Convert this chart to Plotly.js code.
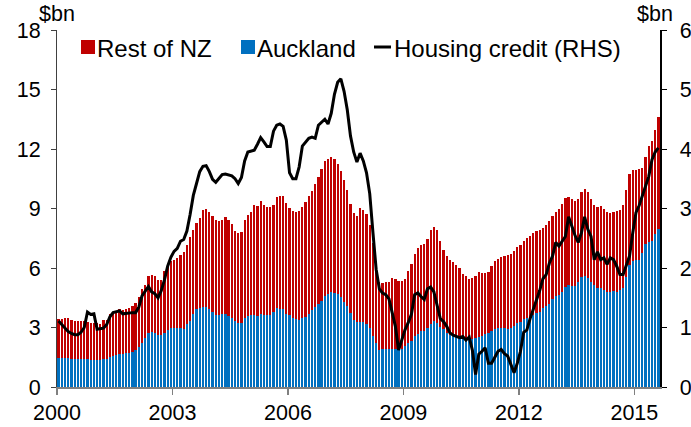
<!DOCTYPE html>
<html>
<head>
<meta charset="utf-8">
<script src="https://cdn.plot.ly/plotly-3.0.1.min.js"></script>
<style>html,body{margin:0;padding:0;background:#fff;}#chart{width:691px;height:427px;}</style>
</head>
<body>
<div id="chart"></div>
<script>
// Monthly data, Jan 2000 – Aug 2015 ($bn)
const startYear = 2000;

const auckland = [
  1.47,1.47,1.47,1.45,1.43,1.42,1.42,1.42,1.40,1.40,1.38,1.36, // 2000
  1.36,1.38,1.40,1.40,1.50,1.55,1.62,1.65,1.68,1.70,1.70,1.74, // 2001
  1.88,2.02,2.20,2.45,2.70,2.75,2.70,2.62,2.60,2.70,2.85,2.95, // 2002
  3.00,2.98,2.95,2.90,3.20,3.35,3.70,3.95,4.00,4.05,4.05,3.95, // 2003
  3.80,3.65,3.65,3.68,3.70,3.60,3.50,3.35,3.25,3.25,3.50,3.60, // 2004
  3.62,3.65,3.60,3.70,3.65,3.62,3.65,3.80,4.00,3.95,3.92,3.70, // 2005
  3.62,3.50,3.45,3.40,3.48,3.55,3.70,3.90,4.05,4.20,4.35,4.60, // 2006
  4.70,4.78,4.75,4.70,4.55,4.30,4.10,3.75,3.38,3.28,3.30,3.30, // 2007
  3.20,2.98,2.56,2.23,1.89,1.90,1.92,1.90,1.90,1.90,1.88,1.90, // 2008
  2.06,2.23,2.30,2.56,2.68,2.80,2.83,2.98,3.20,3.32,3.23,3.03, // 2009
  2.90,2.73,2.64,2.60,2.55,2.50,2.46,2.38,2.38,2.40,2.46,2.52, // 2010
  2.58,2.65,2.73,2.81,2.93,2.98,2.98,2.95,2.93,2.98,3.10,3.22, // 2011
  3.30,3.44,3.50,3.52,3.65,3.72,3.78,3.99,4.07,4.20,4.45,4.60, // 2012
  4.65,4.80,5.05,5.12,5.10,5.10,5.28,5.56,5.58,5.48,5.28,5.12, // 2013
  5.00,5.00,4.90,4.80,4.80,4.82,4.80,4.90,5.00,5.56,6.17,6.35, // 2014
  6.38,6.40,6.76,7.23,7.30,7.35,7.69,7.97                      // 2015
];

const restOfNZ = [
  1.97,1.95,2.01,2.01,1.95,1.93,1.91,1.93,1.93,1.90,1.87,1.86, // 2000
  1.86,1.82,1.98,2.00,2.20,2.17,2.23,2.30,2.20,2.25,2.30,2.34, // 2001
  2.37,2.53,2.75,2.70,2.90,2.90,2.92,2.78,2.80,3.15,3.35,3.40, // 2002
  3.40,3.52,3.70,3.90,3.95,4.20,4.20,4.30,4.50,4.85,4.93,4.85, // 2003
  4.80,4.75,4.70,4.72,4.85,4.80,4.70,4.50,4.50,4.55,4.90,5.05, // 2004
  5.18,5.55,5.55,5.70,5.55,5.48,5.43,5.40,5.60,5.67,5.73,5.60, // 2005
  5.43,5.35,5.35,5.45,5.62,5.80,5.95,6.00,6.20,6.40,6.65,6.78, // 2006
  6.80,6.80,6.75,6.55,6.35,6.12,5.85,5.50,5.40,5.32,5.73,5.60, // 2007
  5.53,5.21,4.71,4.11,3.41,3.35,3.38,3.38,3.60,3.55,3.47,3.43, // 2008
  3.37,3.61,3.92,4.17,4.32,4.35,4.37,4.50,4.74,4.75,4.71,4.32, // 2009
  4.03,3.90,3.75,3.70,3.62,3.52,3.26,3.22,3.07,3.10,3.16,3.26, // 2010
  3.17,3.10,3.05,3.31,3.41,3.48,3.58,3.67,3.73,3.72,3.75,3.84, // 2011
  3.88,3.94,4.00,4.08,4.12,4.13,4.16,4.03,4.08,4.16,4.19,4.20, // 2012
  4.33,4.45,4.49,4.48,4.40,4.26,4.22,4.26,4.40,4.34,4.22,4.08, // 2013
  4.10,4.15,4.10,4.01,3.95,3.98,4.06,4.00,4.20,4.39,4.59,4.61, // 2014
  4.57,4.58,4.29,4.37,4.87,5.07,5.29,5.65                      // 2015
];

const housingCredit = [
  1.11,1.05,1.00,0.93,0.90,0.88,0.88,0.92,1.00,1.26,1.22,1.23, // 2000
  0.97,0.98,0.99,1.05,1.18,1.25,1.27,1.28,1.23,1.24,1.25,1.25, // 2001
  1.25,1.34,1.53,1.62,1.69,1.60,1.57,1.50,1.62,1.80,2.03,2.18, // 2002
  2.28,2.33,2.45,2.48,2.62,2.90,3.22,3.42,3.62,3.71,3.72,3.62, // 2003
  3.49,3.44,3.50,3.57,3.58,3.57,3.55,3.50,3.42,3.52,3.80,3.95, // 2004
  3.97,3.98,4.08,4.19,4.12,4.04,4.04,4.30,4.40,4.42,4.38,4.15, // 2005
  3.60,3.50,3.50,3.70,4.05,4.12,4.18,4.20,4.18,4.40,4.45,4.50, // 2006
  4.42,4.60,4.92,5.12,5.18,4.97,4.66,4.22,3.95,3.78,3.93,3.80, // 2007
  3.60,3.25,2.60,1.98,1.65,1.58,1.55,1.48,1.25,1.02,0.62,0.78, // 2008
  0.96,1.08,1.22,1.55,1.58,1.52,1.47,1.65,1.68,1.60,1.38,1.15, // 2009
  1.10,1.02,0.91,0.87,0.85,0.83,0.85,0.79,0.84,0.62,0.21,0.55, // 2010
  0.60,0.66,0.40,0.40,0.50,0.60,0.63,0.56,0.52,0.38,0.24,0.40, // 2011
  0.60,0.92,0.96,1.15,1.30,1.48,1.62,1.82,1.89,2.08,2.20,2.43, // 2012
  2.37,2.45,2.53,2.86,2.70,2.55,2.43,2.59,2.86,2.65,2.53,2.14, // 2013
  2.27,2.14,2.17,2.06,2.17,2.14,2.03,1.89,1.89,2.05,2.20,2.59, // 2014
  2.93,3.05,3.21,3.40,3.54,3.82,3.95,4.02                      // 2015
];

const yearTicks = [2000, 2003, 2006, 2009, 2012, 2015];
const leftTicks = [0, 3, 6, 9, 12, 15, 18];
const rightTicks = [0, 1, 2, 3, 4, 5, 6];
const seriesNames = ['Rest of NZ', 'Auckland', 'Housing credit (RHS)'];
const seriesColors = ['#C00000', '#0070C0', '#000000'];

// month positions (centre of each month, in decimal years)
const months = auckland.map((_, i) => startYear + (i + 0.5) / 12);
const endYear = startYear + auckland.length / 12;

const FONT = 'Liberation Sans, Arial, sans-serif';
const FS = 21.5;
const LFS = 24;

const traces = [
  { type: 'bar', name: seriesNames[1], x: months, y: auckland, marker: { color: seriesColors[1] }, showlegend: false },
  { type: 'bar', name: seriesNames[0], x: months, y: restOfNZ, marker: { color: seriesColors[0] }, showlegend: false },
  { type: 'scatter', mode: 'lines', name: seriesNames[2], x: months, y: housingCredit, yaxis: 'y2',
    line: { color: seriesColors[2], width: 3 }, showlegend: false }
];

// plot-area geometry helpers for the legend (pixel -> paper)
const M = { l: 57, r: 31, t: 30, b: 40 };
const PW = 691 - M.l - M.r, PH = 427 - M.t - M.b;
const px = v => (v - M.l) / PW;
const py = v => (427 - M.b - v) / PH;

const legendY = 47;
const legendItems = [
  { sym: 'box', x0: 81, x1: 95, tx: 96 },
  { sym: 'box', x0: 241, x1: 255, tx: 256 },
  { sym: 'line', x0: 374, x1: 391, tx: 393 }
];

const shapes = legendItems.map((it, k) => it.sym === 'box'
  ? { type: 'rect', xref: 'paper', yref: 'paper', x0: px(it.x0), x1: px(it.x1), y0: py(legendY + 7), y1: py(legendY - 7),
      fillcolor: seriesColors[k], line: { width: 0 } }
  : { type: 'line', xref: 'paper', yref: 'paper', x0: px(it.x0), x1: px(it.x1), y0: py(legendY), y1: py(legendY),
      line: { color: seriesColors[k], width: 3 } });

const annotations = legendItems.map((it, k) => ({
  text: seriesNames[k], xref: 'paper', yref: 'paper', x: px(it.tx), y: py(legendY + 1), xanchor: 'left', yanchor: 'middle',
  showarrow: false, borderpad: 0, font: { family: FONT, size: LFS, color: '#000' }
}));
annotations.push(
  { text: '$bn', xref: 'paper', yref: 'paper', x: 0, y: 1, xanchor: 'left', yanchor: 'bottom', xshift: -19, yshift: 3,
    showarrow: false, borderpad: 0, font: { family: FONT, size: FS, color: '#000' } },
  { text: '$bn', xref: 'paper', yref: 'paper', x: 1, y: 1, xanchor: 'center', yanchor: 'bottom', xshift: -5, yshift: 3,
    showarrow: false, borderpad: 0, font: { family: FONT, size: FS, color: '#000' } }
);

const layout = {
  width: 691, height: 427,
  margin: M,
  paper_bgcolor: '#ffffff', plot_bgcolor: '#ffffff',
  font: { family: FONT, size: FS, color: '#000' },
  barmode: 'stack', bargap: 0.3,
  showlegend: false,
  xaxis: { range: [startYear, endYear], tickmode: 'array', tickvals: yearTicks, ticktext: yearTicks.map(String),
           ticks: 'outside', ticklen: 6, tickwidth: 1.5, tickcolor: '#808080',
           showline: true, linecolor: '#808080', linewidth: 1.5, showgrid: false, zeroline: false,
           tickfont: { family: FONT, size: FS, color: '#000' } },
  yaxis: { range: [0, 18], tickmode: 'array', tickvals: leftTicks, ticks: 'outside', ticklen: 5, tickwidth: 1, tickcolor: '#404040',
           showline: true, linecolor: '#404040', linewidth: 1, showgrid: false, zeroline: false, ticklabelstandoff: 6,
           tickfont: { family: FONT, size: FS, color: '#000' } },
  yaxis2: { range: [0, 6], overlaying: 'y', side: 'right', tickmode: 'array', tickvals: rightTicks,
            ticks: 'outside', ticklen: 5, tickwidth: 1, tickcolor: '#000',
            showline: true, linecolor: '#000', linewidth: 1.5, showgrid: false, zeroline: false, ticklabelstandoff: 9,
            tickfont: { family: FONT, size: FS, color: '#000' } },
  shapes: shapes,
  annotations: annotations
};

Plotly.newPlot('chart', traces, layout, { displayModeBar: false, staticPlot: true });
</script>
</body>
</html>
